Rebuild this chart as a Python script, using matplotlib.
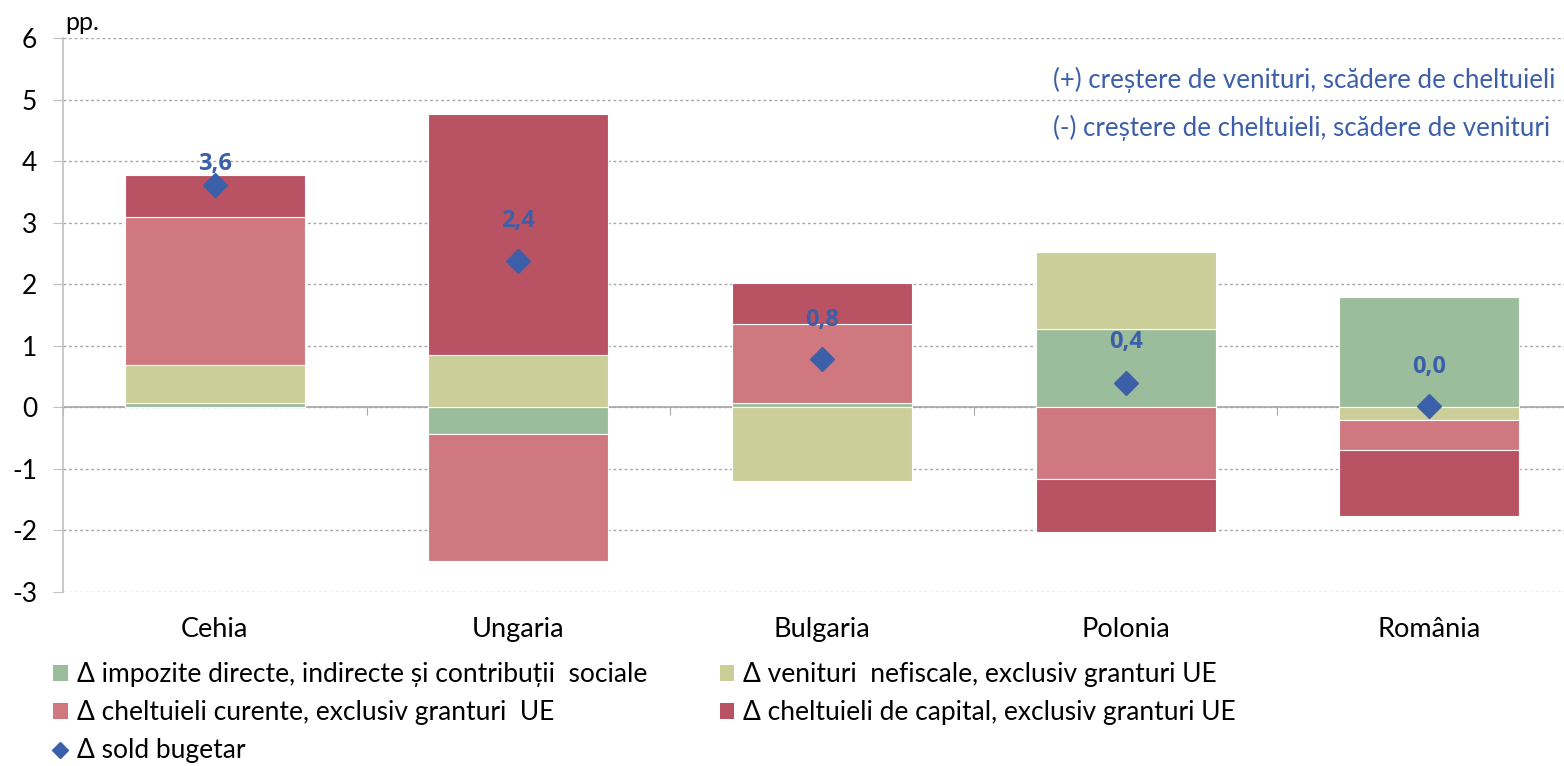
import matplotlib
matplotlib.use("Agg")
import matplotlib.pyplot as plt
import numpy as np
from matplotlib.patches import Patch
from matplotlib.lines import Line2D

plt.rcParams['font.family'] = ['Lato', 'DejaVu Sans']
plt.rcParams['axes.unicode_minus'] = False

categories = ["Cehia", "Ungaria", "Bulgaria", "Polonia", "România"]
impozite = [0.07, -0.43, 0.07, 1.28, 1.79]
venituri_nefiscale = [0.61, 0.85, -1.20, 1.24, -0.20]
cheltuieli_curente = [2.42, -2.07, 1.29, -1.17, -0.49]
cheltuieli_capital = [0.67, 3.92, 0.66, -0.86, -1.08]
sold_bugetar = [3.62, 2.37, 0.78, 0.39, 0.02]
sold_labels = ["3,6", "2,4", "0,8", "0,4", "0,0"]

series_names = [
    "Δ impozite directe, indirecte și contribuții  sociale",
    "Δ venituri  nefiscale, exclusiv granturi UE",
    "Δ cheltuieli curente, exclusiv granturi  UE",
    "Δ cheltuieli de capital, exclusiv granturi UE",
]
sold_name = "Δ sold bugetar"
colors = ["#9BBD9B", "#CCCE99", "#D07880", "#B95364"]
blue = "#3C5FAA"
note_lines = ["(+) creștere de venituri, scădere de cheltuieli",
              "(-) creștere de cheltuieli, scădere de venituri"]

W, H = 1564, 766
fig = plt.figure(figsize=(W / 100, H / 100), dpi=100)
ax = fig.add_axes([63 / W, (H - 592) / H, 1518 / W, 554 / H])

x = np.arange(len(categories))
width = 0.593
pos_base = np.zeros(len(categories))
neg_base = np.zeros(len(categories))
for vals, col in zip([impozite, venituri_nefiscale, cheltuieli_curente, cheltuieli_capital], colors):
    v = np.array(vals)
    base = np.where(v >= 0, pos_base, neg_base)
    ax.bar(x, v, width, bottom=base, color=col, edgecolor="white", linewidth=0.8, zorder=2)
    pos_base = pos_base + np.where(v >= 0, v, 0)
    neg_base = neg_base + np.where(v < 0, v, 0)

ax.plot(x, sold_bugetar, linestyle="none", marker="D", markersize=12.5, color=blue, zorder=4)
offsets = [21, 40, 39, 41, 39]
for xi, yi, lab, off in zip(x, sold_bugetar, sold_labels, offsets):
    ax.annotate(lab, (xi, yi), xytext=(0, off * 0.72), textcoords="offset points",
                ha="center", va="center", fontsize=17, fontweight="bold",
                family=["Open Sans", "DejaVu Sans"], color=blue, zorder=5)

ax.set_xlim(-0.5, len(categories) - 0.5)
ax.set_ylim(-3, 6)
ax.set_yticks(range(-3, 7))
ax.yaxis.grid(True, color="#A6A6A6", linestyle=(0, (2, 2)), linewidth=1)
ax.set_axisbelow(True)

for s in ["top", "right"]:
    ax.spines[s].set_visible(False)
ax.spines["left"].set_color("#BFBFBF")
ax.spines["left"].set_linewidth(1.2)
ax.spines["bottom"].set_position(("data", 0))
ax.spines["bottom"].set_color("#A6A6A6")
ax.spines["bottom"].set_linewidth(1.2)
ax.spines["bottom"].set_zorder(1)
ax.set_xticks(np.arange(len(categories) + 1) - 0.5)
ax.tick_params(axis="x", length=6, color="#A6A6A6", labelbottom=False, direction="out")
ax.tick_params(axis="y", length=7.5, color="#BFBFBF", labelsize=19, pad=11)

sec = ax.secondary_xaxis("bottom")
sec.spines["bottom"].set_visible(False)
sec.set_xticks(x)
sec.set_xticklabels(categories, fontsize=19.5)
sec.tick_params(length=0, pad=18)

fig.text(65 / W, 1 - 22 / H, "pp.", fontsize=18, ha="left", va="center")
fig.text(1053 / W, 1 - 80 / H, note_lines[0], fontsize=18.6, color=blue, ha="left", va="center")
fig.text(1053 / W, 1 - 128 / H, note_lines[1], fontsize=18.6, color=blue, ha="left", va="center")

handles = [Patch(facecolor=colors[0]), Patch(facecolor=colors[2]),
           Line2D([], [], linestyle="none", marker="D", color=blue, markersize=8),
           Patch(facecolor=colors[1]), Patch(facecolor=colors[3])]
labels = [series_names[0], series_names[2], sold_name, series_names[1], series_names[3]]
fig.legend(handles, labels, ncol=2, loc="upper left", bbox_to_anchor=(53 / W, 1 - 662 / H),
           frameon=False, fontsize=19, handlelength=0.55, handleheight=0.55, handletextpad=0.35,
           columnspacing=2.75, labelspacing=0.5, borderaxespad=0, borderpad=0)

fig.savefig("out.png", dpi=100)
